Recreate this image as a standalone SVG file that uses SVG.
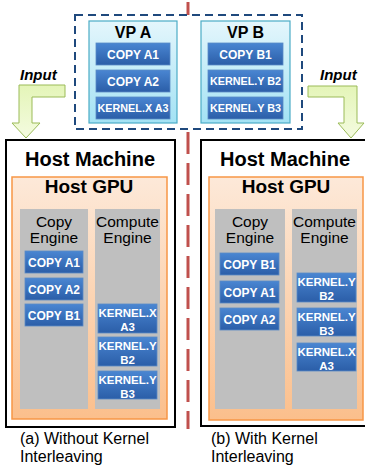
<svg xmlns="http://www.w3.org/2000/svg" width="365" height="466" viewBox="0 0 365 466">
<defs>
<linearGradient id="gBlue" x1="0" y1="0" x2="0" y2="1"><stop offset="0" stop-color="#4a86d2"/><stop offset="1" stop-color="#2b5ea8"/></linearGradient>
<linearGradient id="gVP" x1="0" y1="0" x2="0" y2="1"><stop offset="0" stop-color="#e4f6fc"/><stop offset="1" stop-color="#a3e2f4"/></linearGradient>
<linearGradient id="gOr" x1="0" y1="0" x2="0" y2="1"><stop offset="0" stop-color="#fde9d9"/><stop offset="1" stop-color="#fbbf8c"/></linearGradient>
<linearGradient id="gGr" x1="0" y1="0" x2="0" y2="1"><stop offset="0" stop-color="#e4f5b8"/><stop offset="1" stop-color="#f4fbe0"/></linearGradient>
</defs>
<style>
.blk{fill:url(#gBlue);stroke:#5b8ac6;stroke-width:0.8}
.bt{font-family:"Liberation Sans",Arial,sans-serif;font-weight:bold;font-size:12px;fill:#fff;text-anchor:middle}
.kt{font-size:11.5px}
.vk{font-size:10.8px}
.vp{fill:url(#gVP);stroke:#4bacc6;stroke-width:1.2}
.vpt{font-family:"Liberation Sans",Arial,sans-serif;font-weight:bold;font-size:16px;fill:#000;text-anchor:middle}
.host{fill:#fff;stroke:#000;stroke-width:2}
.hm{font-family:"Liberation Sans",Arial,sans-serif;font-weight:bold;font-size:20px;fill:#000;text-anchor:middle}
.gpu{fill:url(#gOr);stroke:#f79646;stroke-width:1.5}
.eng{fill:#bfbfbf}
.et{font-family:"Liberation Sans",Arial,sans-serif;font-size:15.5px;fill:#000;text-anchor:middle}
.cap{font-family:"Liberation Sans",Arial,sans-serif;font-size:16px;fill:#000}
.arr{fill:url(#gGr);stroke:#9bbb59;stroke-width:1}
.inp{font-family:"Liberation Sans",Arial,sans-serif;font-weight:bold;font-style:italic;font-size:15px;fill:#000}
</style>
<g id="divider">
<line x1="188" y1="2" x2="188" y2="15" stroke="#c0504d" stroke-width="3"/>
<line x1="188" y1="132" x2="188" y2="429" stroke="#c0504d" stroke-width="3" stroke-dasharray="22 9"/>
</g>
<g id="vp-group">
<rect x="75" y="15" width="227" height="114" fill="none" stroke="#1f497d" stroke-width="2" stroke-dasharray="8 5"/>
</g>
<g id="vpA">
<rect class="vp" x="89" y="21" width="88" height="102"/>
<text class="vpt" x="133" y="38">VP A</text>
<rect class="blk" x="96" y="43" width="74" height="22"/><text class="bt" x="133" y="58.5">COPY A1</text>
<rect class="blk" x="96" y="70" width="74" height="22"/><text class="bt" x="133" y="85.5">COPY A2</text>
<rect class="blk" x="96" y="97" width="74" height="22"/><text class="bt vk" x="133" y="112">KERNEL.X A3</text>
</g>
<g id="vpB">
<rect class="vp" x="201" y="21" width="89" height="102"/>
<text class="vpt" x="245.5" y="38">VP B</text>
<rect class="blk" x="208" y="43" width="75" height="22"/><text class="bt" x="245.5" y="58.5">COPY B1</text>
<rect class="blk" x="208" y="70" width="75" height="22"/><text class="bt vk" x="245.5" y="85">KERNEL.Y B2</text>
<rect class="blk" x="208" y="97" width="75" height="22"/><text class="bt vk" x="245.5" y="112">KERNEL.Y B3</text>
</g>
<g id="connectors">
<polygon class="arr" points="65,85 19,85 19,123 12,123 26,138 40,123 32,123 32,97 65,97"/>
<polygon class="arr" points="308,86 357,86 357,123 364,123 351,138 338,123 344,123 344,97 308,97"/>
<text class="inp" x="20" y="80">Input</text>
<text class="inp" x="320" y="80">Input</text>
</g>
<g id="hostA">
<rect class="host" x="6" y="140" width="169" height="287"/>
<text class="hm" x="90" y="166">Host Machine</text>
<rect class="gpu" x="12" y="177" width="155" height="242"/>
<text class="hm" x="89" y="193" style="font-size:19px">Host GPU</text>
<rect class="eng" x="20" y="209" width="68" height="200"/>
<rect class="eng" x="95" y="209" width="65" height="200"/>
<text class="et" x="54" y="227">Copy</text><text class="et" x="54" y="243">Engine</text>
<text class="et" x="127.5" y="227">Compute</text><text class="et" x="127.5" y="243">Engine</text>
<rect class="blk" x="25" y="251" width="58" height="22"/><text class="bt" x="54" y="266.5">COPY A1</text>
<rect class="blk" x="25" y="278" width="58" height="22"/><text class="bt" x="54" y="293.5">COPY A2</text>
<rect class="blk" x="25" y="304" width="58" height="22"/><text class="bt" x="54" y="319.5">COPY B1</text>
<rect class="blk" x="98" y="304" width="59" height="29"/><text class="bt kt" x="127.5" y="317">KERNEL.X</text><text class="bt kt" x="127.5" y="331">A3</text>
<rect class="blk" x="98" y="337" width="59" height="29"/><text class="bt kt" x="127.5" y="350">KERNEL.Y</text><text class="bt kt" x="127.5" y="364">B2</text>
<rect class="blk" x="98" y="371" width="59" height="28"/><text class="bt kt" x="127.5" y="384">KERNEL.Y</text><text class="bt kt" x="127.5" y="398">B3</text>
<text class="cap" x="20" y="444">(a) Without Kernel</text>
<text class="cap" x="20" y="462">Interleaving</text>
</g>
<g id="hostB">
<rect class="host" x="201" y="140" width="172" height="286"/>
<text class="hm" x="285" y="166">Host Machine</text>
<rect class="gpu" x="209" y="177" width="154" height="243"/>
<text class="hm" x="286" y="193" style="font-size:19px">Host GPU</text>
<rect class="eng" x="215" y="209" width="70" height="200"/>
<rect class="eng" x="292" y="209" width="65" height="200"/>
<text class="et" x="250" y="227">Copy</text><text class="et" x="250" y="243">Engine</text>
<text class="et" x="324.5" y="227">Compute</text><text class="et" x="324.5" y="243">Engine</text>
<rect class="blk" x="220" y="253" width="59" height="22"/><text class="bt" x="249.5" y="268.5">COPY B1</text>
<rect class="blk" x="220" y="281" width="59" height="22"/><text class="bt" x="249.5" y="296.5">COPY A1</text>
<rect class="blk" x="220" y="308" width="59" height="22"/><text class="bt" x="249.5" y="323.5">COPY A2</text>
<rect class="blk" x="297" y="273" width="59" height="29"/><text class="bt kt" x="326.5" y="286">KERNEL.Y</text><text class="bt kt" x="326.5" y="300">B2</text>
<rect class="blk" x="297" y="308" width="59" height="28"/><text class="bt kt" x="326.5" y="321">KERNEL.Y</text><text class="bt kt" x="326.5" y="335">B3</text>
<rect class="blk" x="297" y="343" width="59" height="28"/><text class="bt kt" x="326.5" y="356">KERNEL.X</text><text class="bt kt" x="326.5" y="370">A3</text>
<text class="cap" x="211" y="444">(b) With Kernel</text>
<text class="cap" x="211" y="462">Interleaving</text>
</g>
</svg>
